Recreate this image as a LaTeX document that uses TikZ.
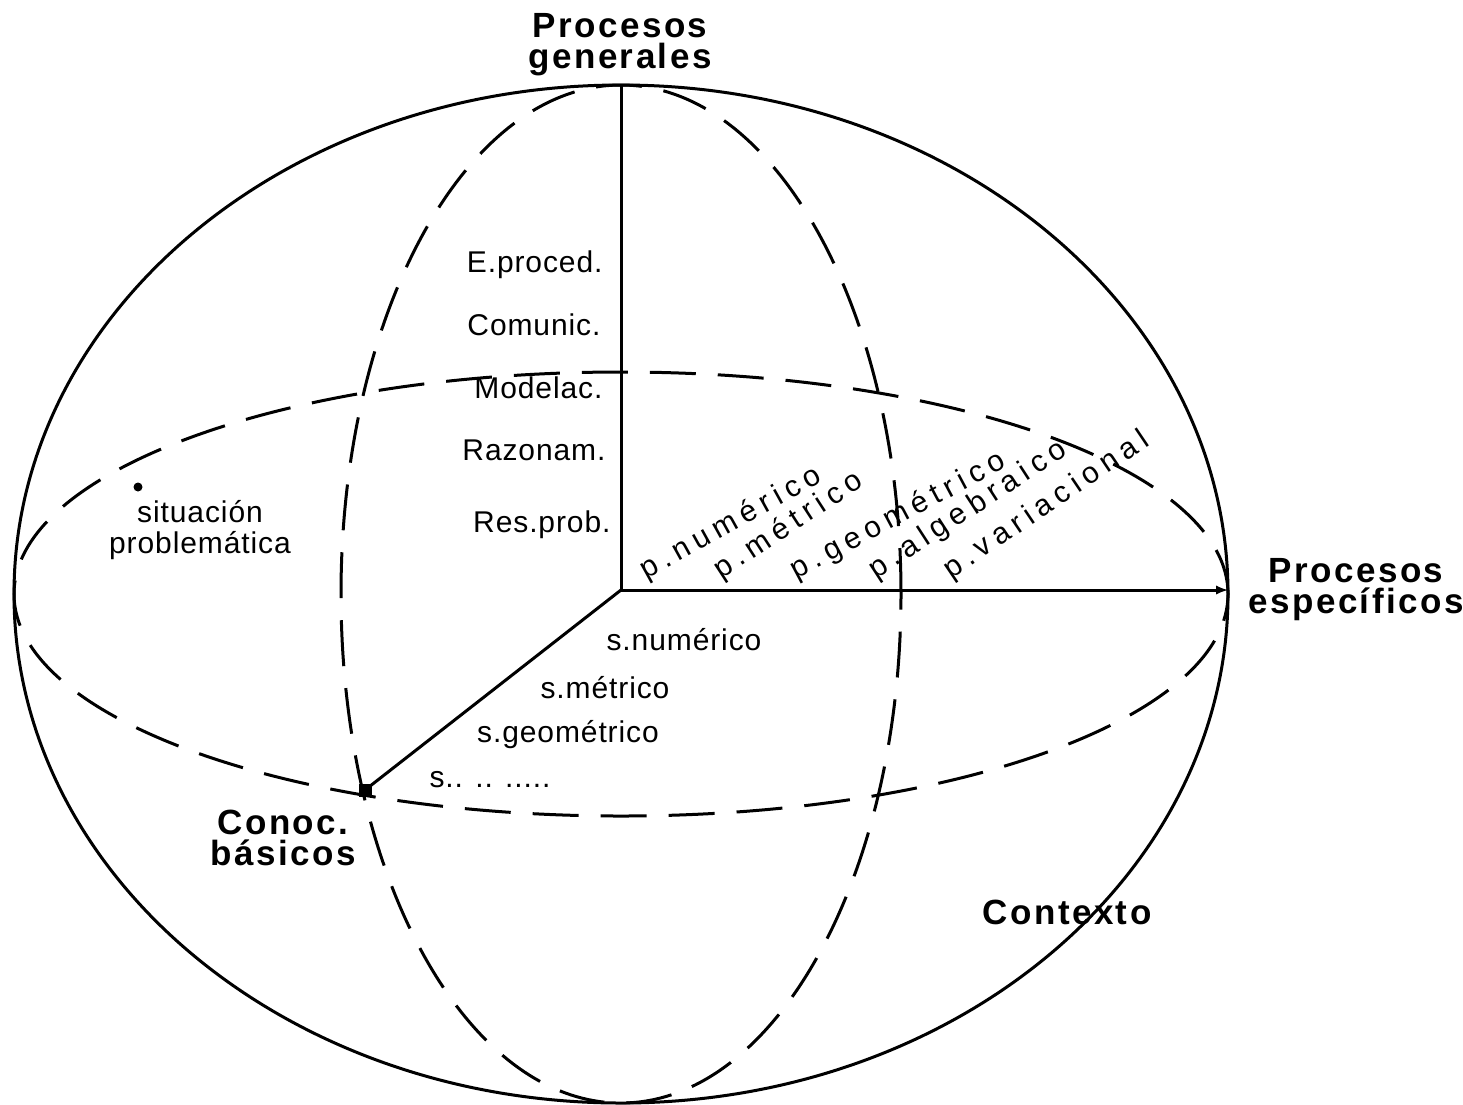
\documentclass[tikz,border=0pt]{standalone}
\usepackage{fontspec}
\setmainfont[LetterSpace=3]{Liberation Sans}
\newfontfamily\axfont[LetterSpace=7]{Liberation Sans}
\newfontfamily\pfont[LetterSpace=20]{Liberation Sans}
\usepackage{tikz}
\usetikzlibrary{arrows}

\tikzset{
	lbl/.style={font=\fontsize{30}{31}\selectfont, inner sep=0pt, align=center},
	axlbl/.style={font=\axfont\bfseries\fontsize{35}{31}\selectfont, inner sep=0pt, align=center},
	plbl/.style={font=\pfont\fontsize{30}{30}\selectfont, inner sep=0pt, anchor=base west},
	guide/.style={line width=3pt, dash pattern=on 46pt off 22pt},
}

\begin{document}
\begin{tikzpicture}[x=1pt,y=-1pt,line width=3pt]
		\useasboundingbox (0,0) rectangle (1463,1104);
		
		% sphere and its two dashed circles
		\coordinate (ctr) at (621,594);
		\draw (ctr) ellipse [x radius=607pt, y radius=509pt];
		\draw[guide] (ctr) ellipse [x radius=607pt, y radius=222pt];
		\draw[guide] (ctr) ellipse [x radius=280pt, y radius=509pt];
		
		% axes
		\coordinate (O) at (621,590);
		\coordinate (top) at (621,86);
		\coordinate (right) at (1228,590);
		\node[fill, minimum size=13pt, inner sep=0pt] (cb) at (365,790) {};
		\draw (O) -- (top);
		\draw[-latex] (O) -- (right);
		\draw (O) -- (cb.center);
		
		\node[axlbl] (pg) at (620,45) {Procesos\\generales};
		\node[axlbl] (pe) at (1356,590) {Procesos\\espec\'{\i}ficos};
		\node[axlbl] (kb) at (283,838) {Conoc.\\b\'asicos};
		\node[axlbl] (ctx) at (1067,912) {Contexto};
		
		% procesos generales
		\node[lbl, anchor=east] (ep) at (604,265) {E.proced.};
		\node[lbl, anchor=east] (co) at (602,325) {Comunic.};
		\node[lbl, anchor=east] (mo) at (604,388) {Modelac.};
		\node[lbl, anchor=east] (ra) at (607,450) {Razonam.};
		\node[lbl, anchor=east] (rp) at (612,525) {Res.prob.};
		
		% situacion
		\node[circle, fill, minimum size=9pt, inner sep=0pt] (sp) at (138,487) {};
		\node[lbl] (spt) at (200,530) {situaci\'on\\problem\'atica};
		
		% procesos especificos
		\node[plbl, rotate=29] (pn) at (645,580) {p.num\'erico};
		\node[plbl, rotate=33] (pm) at (720,580) {p.m\'etrico};
		\node[plbl, rotate=28] (pgeo) at (795,580) {p.geom\'etrico};
		\node[plbl, rotate=33] (pa) at (875,580) {p.algebraico};
		\node[plbl, rotate=34] (pv) at (950,580) {p.variacional};
		
		% sistemas
		\node[lbl] (sn) at (684,640) {s.num\'erico};
		\node[lbl] (sm) at (605,688) {s.m\'etrico};
		\node[lbl] (sg) at (568,735) {s.geom\'etrico};
		\node[lbl] (ss) at (490,780) {s.. .. .....};
	\end{tikzpicture}
\end{document}
